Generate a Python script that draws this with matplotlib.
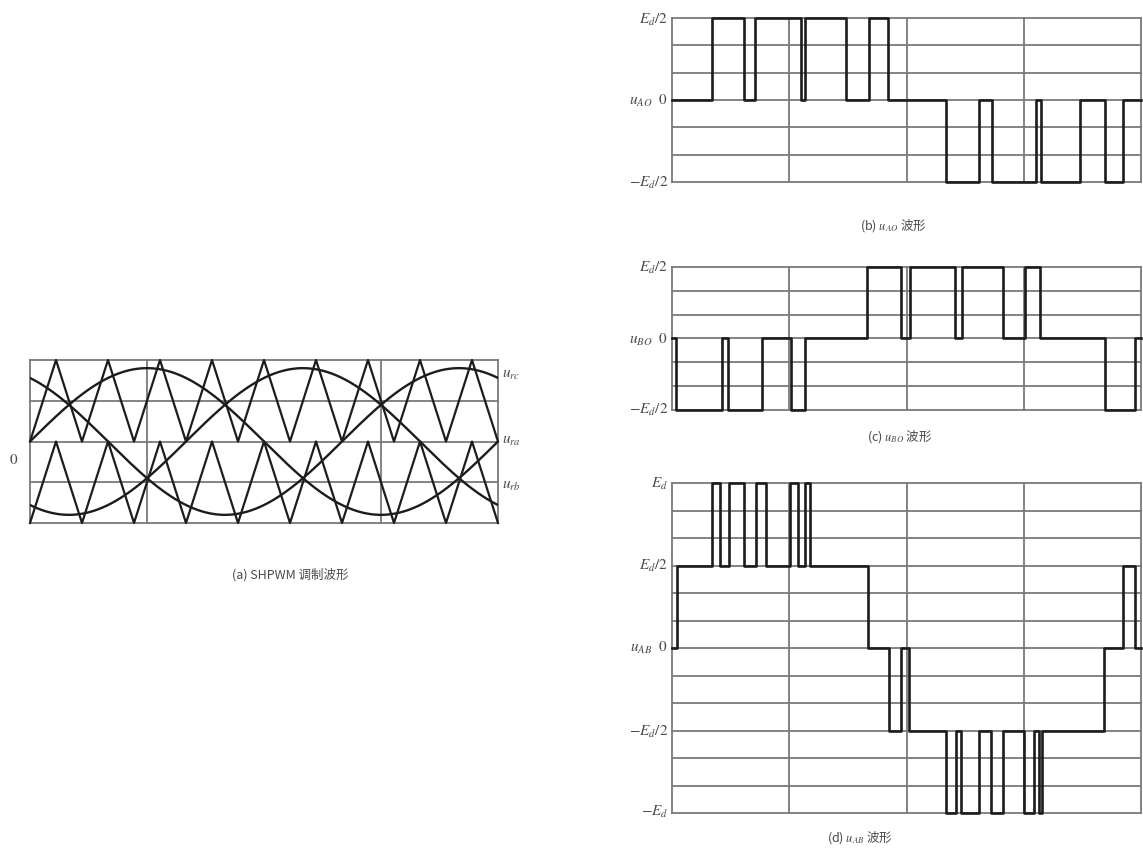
import numpy as np
import matplotlib
matplotlib.use('Agg')
import matplotlib.pyplot as plt

plt.rcParams['font.family'] = ['Noto Sans CJK SC', 'DejaVu Sans']
plt.rcParams['mathtext.fontset'] = 'stix'

# ---------------- data (angles in electrical degrees, one fundamental period) ----------------
# (a) carrier vertices (phase-disposition, 9 carrier cycles per period)
carrier_vertex_deg = [0, 20, 40, 60, 80, 100, 120, 140, 160, 180, 200, 220, 240, 260, 280, 300, 320, 340, 360]
upper_carrier_val = [0, 1, 0, 1, 0, 1, 0, 1, 0, 1, 0, 1, 0, 1, 0, 1, 0, 1, 0]
lower_carrier_val = [-1, 0, -1, 0, -1, 0, -1, 0, -1, 0, -1, 0, -1, 0, -1, 0, -1, 0, -1]
# modulating waves
mod_names = ['$u_{rc}$', '$u_{ra}$', '$u_{rb}$']
mod_phase_deg = [120, 0, -120]
mod_amplitude = 0.9

# (b) u_AO pulses (level in units of E_d/2)
uAO_pos = [(30.7, 55.3), (63.7, 99.0), (102.1, 133.6), (151.2, 165.8)]
uAO_neg = [(210.3, 235.7), (245.6, 279.4), (283.2, 313.2), (332.4, 346.2)]

# (c) u_BO pulses
uBO_pos = [(149.7, 175.8), (182.7, 217.2), (222.6, 254.1), (271.0, 282.5)]
uBO_neg = [(3.1, 38.4), (43.0, 69.1), (91.3, 102.1), (332.4, 355.4)]

# (d) u_AB step waveform (levels in units of E_d/2)
uAB_edges = [0, 4, 30.7, 36.8, 43.8, 55.3, 64.5, 72.2, 90.6, 96.7, 102.1, 105.9, 150.5,
             166.6, 175.8, 181.9, 210.3, 218, 221.8, 235.6, 244.9, 254.1, 270.2, 277.9,
             281.7, 284, 331.7, 346.2, 355.4, 360]
uAB_levels = [0, 1, 2, 1, 2, 1, 2, 1, 2, 1, 2, 1, 0, -1, 0, -1, -2, -1, -2, -1, -2, -1,
              -2, -1, -2, -1, 0, 1, 0]

# ---------------- figure ----------------
W, H = 1143, 852
fig = plt.figure(figsize=(W / 100, H / 100), dpi=100)
fig.patch.set_facecolor('white')

GRID = '#7a7a7a'
WAVE = '#1c1c1c'
TXT = '#4a4a4a'


def px_axes(x0, y0, x1, y1):
    return fig.add_axes([x0 / W, 1 - y1 / H, (x1 - x0) / W, (y1 - y0) / H])


def txt(x, y, s, ha='center', size=10):
    fig.text(x / W, 1 - y / H, s, ha=ha, va='center', fontsize=size, color=TXT)


def clean(ax, ylo, yhi):
    ax.set_xlim(0, 360)
    ax.set_ylim(ylo, yhi)
    ax.axis('off')


def pulses_to_step(pos, neg):
    segs = [(s, e, 1) for s, e in pos] + [(s, e, -1) for s, e in neg]
    segs.sort()
    edges, levels = [0], []
    for s, e, lv in segs:
        if s > edges[-1]:
            levels.append(0)
            edges.append(s)
        levels.append(lv)
        edges.append(e)
    if edges[-1] < 360:
        levels.append(0)
        edges.append(360)
    return edges, levels


def draw_step(ax, edges, levels):
    x = np.repeat(edges, 2)[1:-1]
    y = np.repeat(levels, 2)
    ax.plot(x, y, color=WAVE, lw=1.9, clip_on=False, zorder=3)


# ---- (a) SHPWM modulation ----
axa = px_axes(30, 360, 498, 523)
clean(axa, -1, 1)
for yv in [-1, -0.5, 0, 0.5, 1]:
    axa.axhline(yv, color=GRID, lw=1.3, clip_on=False)
for xv in [0, 90, 270, 360]:
    axa.axvline(xv, color=GRID, lw=1.3, clip_on=False)
axa.plot(carrier_vertex_deg, upper_carrier_val, color=WAVE, lw=1.6, clip_on=False)
axa.plot(carrier_vertex_deg, lower_carrier_val, color=WAVE, lw=1.6, clip_on=False)
theta = np.linspace(0, 360, 721)
for ph in mod_phase_deg:
    axa.plot(theta, mod_amplitude * np.sin(np.radians(theta + ph)), color=WAVE, lw=1.7)
txt(14, 460, '$0$', size=11)
for name, yy in zip(mod_names, [373, 440, 485]):
    txt(502, yy, name, ha='left', size=11)
txt(290, 575, '(a) SHPWM 调制波形', size=9)

# ---- (b) u_AO ----
axb = px_axes(672, 18, 1141, 182)
clean(axb, -1, 1)
for yv in np.linspace(-1, 1, 7):
    axb.axhline(yv, color=GRID, lw=1.3, clip_on=False)
for xv in [0, 90, 180, 270, 360]:
    axb.axvline(xv, color=GRID, lw=1.3, clip_on=False)
e, l = pulses_to_step(uAO_pos, uAO_neg)
draw_step(axb, e, l)
txt(668, 20, '$E_d/2$', ha='right', size=11)
txt(668, 101, r'$u_{AO}\ \ 0$', ha='right', size=11)
txt(668, 183, '$-E_d/2$', ha='right', size=11)
txt(893, 226, '(b) $u_{AO}$ 波形', size=9)

# ---- (c) u_BO ----
axc = px_axes(672, 267, 1141, 410)
clean(axc, -1, 1)
for yv in np.linspace(-1, 1, 7):
    axc.axhline(yv, color=GRID, lw=1.3, clip_on=False)
for xv in [0, 90, 180, 270, 360]:
    axc.axvline(xv, color=GRID, lw=1.3, clip_on=False)
e, l = pulses_to_step(uBO_pos, uBO_neg)
draw_step(axc, e, l)
txt(668, 268, '$E_d/2$', ha='right', size=11)
txt(668, 339, r'$u_{BO}\ \ 0$', ha='right', size=11)
txt(668, 409, '$-E_d/2$', ha='right', size=11)
txt(900, 437, '(c) $u_{BO}$ 波形', size=9)

# ---- (d) u_AB ----
axd = px_axes(672, 483, 1141, 813)
clean(axd, -2, 2)
for yv in np.linspace(-2, 2, 13):
    axd.axhline(yv, color=GRID, lw=1.3, clip_on=False)
for xv in [0, 90, 180, 270, 360]:
    axd.axvline(xv, color=GRID, lw=1.3, clip_on=False)
draw_step(axd, uAB_edges, uAB_levels)
txt(668, 483, '$E_d$', ha='right', size=11)
txt(668, 565, '$E_d/2$', ha='right', size=11)
txt(668, 648, r'$u_{AB}\ \ 0$', ha='right', size=11)
txt(668, 731, '$-E_d/2$', ha='right', size=11)
txt(668, 812, '$-E_d$', ha='right', size=11)
txt(860, 838, '(d) $u_{AB}$ 波形', size=9)

fig.savefig('out.png', dpi=100, facecolor='white')
